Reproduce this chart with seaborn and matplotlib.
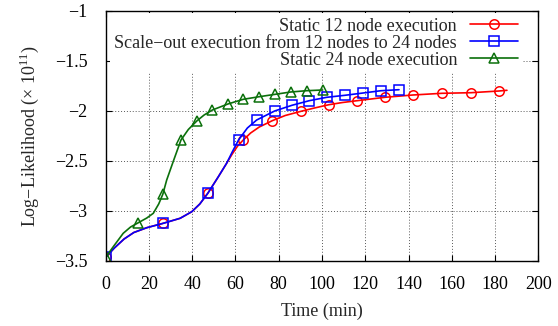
import matplotlib
matplotlib.use("Agg")
import matplotlib.pyplot as plt
import seaborn as sns
import pandas as pd

# ---- data ----
labels = ["Static 12 node execution",
          "Scale\u2212out execution from 12 nodes to 24 nodes",
          "Static 24 node execution"]

static12_time = [0, 4, 8.5, 13, 19, 26.6, 34.4, 39.8, 43.5, 47.2, 52, 55.9, 58.5, 61,
                 63.6, 67, 71, 77, 83, 90.3, 96.5, 103.2, 109.5, 116.2, 129.1, 142,
                 155.5, 168.9, 181.8, 185.5]
static12_ll = [-3.463, -3.37, -3.28, -3.215, -3.167, -3.123, -3.073, -3.007, -2.93,
               -2.823, -2.66, -2.523, -2.43, -2.35, -2.29, -2.22, -2.16, -2.097, -2.045,
               -2.003, -1.97, -1.937, -1.915, -1.897, -1.863, -1.84, -1.823, -1.817,
               -1.80, -1.793]
static12_marks = [0, 5, 9, 14, 17, 19, 21, 23, 24, 25, 26, 27, 28]

scale_time = [0, 4, 8.5, 13, 19, 26.6, 34.4, 39.8, 43.5, 47.2, 52, 55.9, 58.5, 61.4,
              65.5, 69.8, 78.1, 86.1, 94.1, 102.2, 110.6, 119, 127.3, 135.6]
scale_ll = [-3.463, -3.37, -3.28, -3.215, -3.167, -3.123, -3.073, -3.007, -2.93, -2.823,
            -2.66, -2.523, -2.41, -2.29, -2.17, -2.09, -2.00, -1.943, -1.897, -1.863,
            -1.843, -1.82, -1.797, -1.787]
scale_marks = [0, 5, 9, 13, 15, 16, 17, 18, 19, 20, 21, 22, 23]

static24_time = [0, 3.5, 8.1, 11.5, 15.1, 19, 22, 24.5, 26.4, 28.2, 31.3, 34.8, 38.2,
                 42.1, 45.5, 49.3, 56.5, 63.6, 71, 78.4, 85.5, 92.9, 100.3]
static24_ll = [-3.463, -3.357, -3.223, -3.16, -3.117, -3.07, -3.023, -2.93, -2.833, -2.69,
               -2.5, -2.29, -2.185, -2.10, -2.04, -1.99, -1.93, -1.883, -1.857, -1.833,
               -1.81, -1.797, -1.79]
static24_marks = [0, 4, 8, 11, 13, 15, 16, 17, 18, 19, 20, 21, 22]

x_ticks = [0, 20, 40, 60, 80, 100, 120, 140, 160, 180, 200]
y_ticks = [-3.5, -3, -2.5, -2, -1.5, -1]
y_tick_labels = ["\u22123.5", "\u22123", "\u22122.5", "\u22122", "\u22121.5", "\u22121"]

# ---- style ----
FS = 13
sns.set_style("white")
plt.rcParams["font.family"] = ["Liberation Serif", "DejaVu Serif"]
plt.rcParams["mathtext.fontset"] = "custom"
plt.rcParams["mathtext.rm"] = "Liberation Serif"
plt.rcParams["font.size"] = FS

fig = plt.figure(figsize=(5.58, 3.26), dpi=100)
ax = fig.add_axes([105.7 / 558, 65 / 326, 432.6 / 558, 250 / 326])

series = [
    (static12_time, static12_ll, static12_marks, "#ff0000", "o", labels[0]),
    (scale_time, scale_ll, scale_marks, "#0000ff", "s", labels[1]),
    (static24_time, static24_ll, static24_marks, "#0b700b", "^", labels[2]),
]
for t, ll, mk, col, m, lab in series:
    df = pd.DataFrame({"t": t, "ll": ll})
    sns.lineplot(data=df, x="t", y="ll", ax=ax, color=col, marker=m, markevery=mk,
                 markersize=6.8, markerfacecolor="none", markeredgecolor=col,
                 markeredgewidth=1.1, linewidth=1.2, sort=False, estimator=None,
                 label=lab)

ax.set_xlim(0, 200)
ax.set_ylim(-3.5, -1)
ax.set_xticks(x_ticks)
ax.set_yticks(y_ticks)
ax.set_yticklabels(y_tick_labels)
ax.grid(True, color="0.35", linestyle=(0, (1, 2)), linewidth=0.7)
ax.set_axisbelow(True)
for s in ax.spines.values():
    s.set_visible(True)
    s.set_color("black")
    s.set_linewidth(1.0)
ax.tick_params(direction="in", length=4, width=0.8, top=True, right=True,
               bottom=True, left=True, labelsize=FS, colors="black")
ax.tick_params(axis="x", pad=11)
ax.tick_params(axis="y", pad=13)

ax.set_xlabel("Time (min)", fontsize=FS, labelpad=7)
ax.set_ylabel("Log\u2212Likelihood (\u00d7 10$^{\\mathregular{11}}$)", fontsize=FS,
              labelpad=10)

leg = ax.legend(loc="upper right", bbox_to_anchor=((523 - 105.7) / 432.6, (261 - 13) / 250),
                borderaxespad=0, markerfirst=False, frameon=True, fancybox=False,
                framealpha=1, edgecolor="none", facecolor="white", handlelength=2.7,
                handletextpad=0.7, labelspacing=0.0, borderpad=0.25, fontsize=FS)

fig.savefig("out.png", dpi=100)
